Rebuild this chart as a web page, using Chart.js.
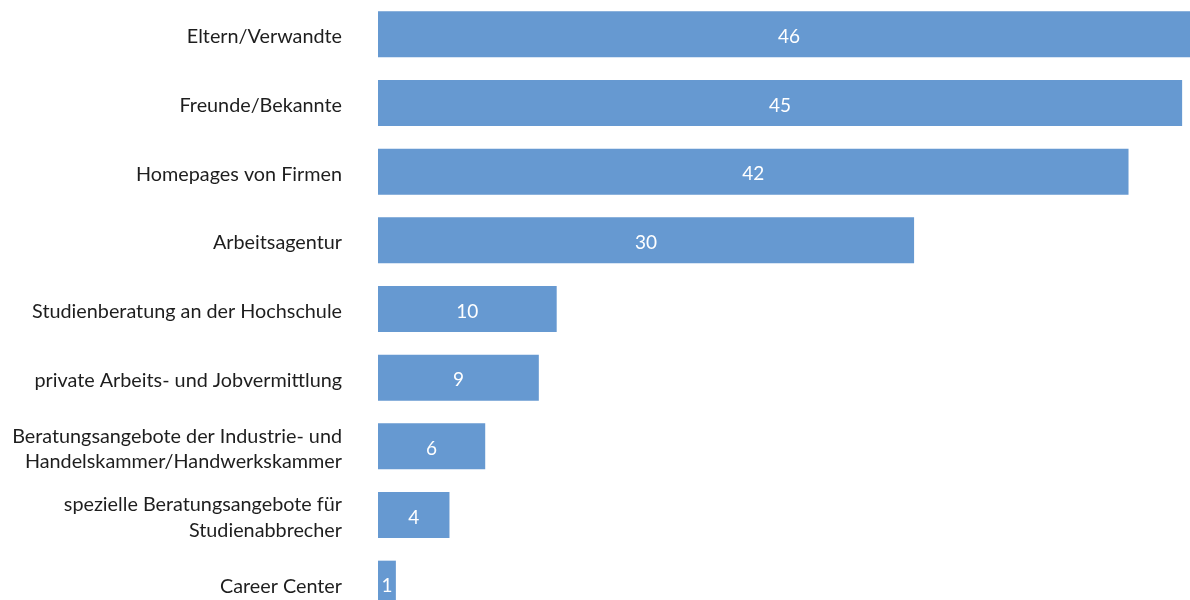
<!DOCTYPE html>
<html>
<head>
<meta charset="utf-8">
<script src="https://cdn.jsdelivr.net/npm/chart.js@4.4.1/dist/chart.umd.min.js"></script>
<style>
    html, body { margin: 0; padding: 0; background: #ffffff; overflow: hidden; }
    #wrap { position: relative; width: 1200px; height: 618px; }
</style>
</head>
<body>
<div id="wrap"><canvas id="sourcesChart"></canvas></div>
<script>
// Informationsquellen (Anzahl Nennungen)
const categories = [
    'Eltern/Verwandte',
    'Freunde/Bekannte',
    'Homepages von Firmen',
    'Arbeitsagentur',
    'Studienberatung an der Hochschule',
    'private Arbeits- und Jobvermittlung',
    ['Beratungsangebote der Industrie- und', 'Handelskammer/Handwerkskammer'],
    ['spezielle Beratungsangebote für', 'Studienabbrecher'],
    'Career Center'
];
const counts = [46, 45, 42, 30, 10, 9, 6, 4, 1];

const barColor = '#6699d1';
const textColor = '#1e1e1e';
const fontFamily = 'Lato, "Open Sans", sans-serif';

// writes each value in white at the middle of its bar
const valueLabels = {
    id: 'valueLabels',
    afterDatasetsDraw(chart) {
        const ctx = chart.ctx;
        const meta = chart.getDatasetMeta(0);
        ctx.save();
        ctx.fillStyle = '#ffffff';
        ctx.font = '19px ' + fontFamily;
        ctx.textAlign = 'center';
        ctx.textBaseline = 'middle';
        meta.data.forEach((bar, i) => {
            const p = bar.getProps(['x', 'y', 'base'], true);
            ctx.fillText(String(counts[i]), (p.x + p.base) / 2, p.y + 2.5);
        });
        ctx.restore();
    }
};

new Chart(document.getElementById('sourcesChart'), {
    type: 'bar',
    data: {
        labels: categories,
        datasets: [{
            data: counts,
            backgroundColor: barColor,
            borderWidth: 0,
            categoryPercentage: 1,
            barPercentage: 0.67
        }]
    },
    options: {
        indexAxis: 'y',
        responsive: true,
        maintainAspectRatio: false,
        animation: false,
        layout: { padding: 0 },
        plugins: {
            legend: { display: false },
            tooltip: { enabled: false }
        },
        scales: {
            x: {
                display: false,
                min: 0,
                max: 46
            },
            y: {
                grid: { display: false, drawTicks: false },
                border: { display: false },
                afterFit(scale) {
                    // fixed label column, no extra room above/below the bars
                    scale.width = 378;
                    scale.paddingTop = 0;
                    scale.paddingBottom = 0;
                },
                ticks: {
                    padding: 36,
                    labelOffset: 2.5,
                    color: textColor,
                    font: { family: fontFamily, size: 19.8, lineHeight: 1.28 }
                }
            }
        }
    },
    plugins: [valueLabels]
});
</script>
</body>
</html>
